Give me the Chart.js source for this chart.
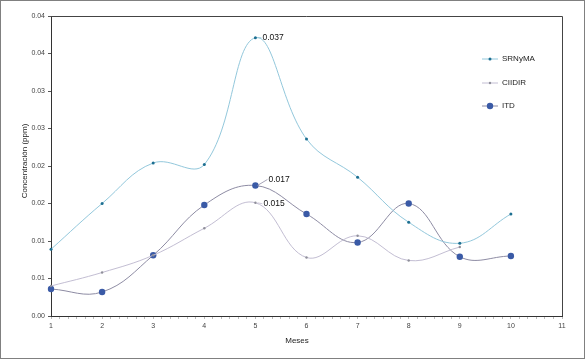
<!DOCTYPE html>
<html>
<head>
<meta charset="utf-8">
<script src="https://cdn.jsdelivr.net/npm/chart.js@4.4.1/dist/chart.umd.min.js"></script>
<style>
    html, body { margin: 0; padding: 0; background: #fff; }
    #wrap { width: 585px; height: 359px; position: relative; }
</style>
</head>
<body>
<div id="wrap"><canvas id="chart" width="585" height="359"></canvas></div>
<script>
// valores
const meses = [1, 2, 3, 4, 5, 6, 7, 8, 9, 10];
const srnyma = [0.0089, 0.0150, 0.0204, 0.0202, 0.0371, 0.0236, 0.0185, 0.0125, 0.0097, 0.0136];
const ciidir = [0.0040, 0.0058, 0.0081, 0.0117, 0.0151, 0.0078, 0.0107, 0.0074, 0.0092, null];
const itd = [0.0036, 0.0032, 0.0081, 0.0148, 0.0174, 0.0136, 0.0098, 0.0150, 0.0079, 0.0080];
const yTickLabels = ['0.00', '0.01', '0.01', '0.02', '0.02', '0.03', '0.03', '0.04', '0.04'];
const seriesNames = ['SRNyMA', 'CIIDIR', 'ITD'];

const FONT = 'Arial, "Liberation Sans", sans-serif';

function toPoints(values) {
    return meses.map((m, i) => ({ x: m, y: values[i] }));
}

// etiquetas de valor en el mes 5
const peakLabels = [
    { dataset: 0, index: 4, dx: 7, dy: 0 },
    { dataset: 2, index: 4, dx: 13, dy: -6 },
    { dataset: 1, index: 4, dx: 8, dy: 1 }
];

const framePlugin = {
    id: 'frame',
    beforeDraw(chart) {
        const ctx = chart.ctx;
        ctx.save();
        ctx.fillStyle = '#fff';
        ctx.fillRect(0, 0, chart.width, chart.height);
        ctx.restore();
    },
    afterDraw(chart) {
        const ctx = chart.ctx;
        const a = chart.chartArea;
        ctx.save();
        // marco del area de trazado
        ctx.strokeStyle = '#444';
        ctx.lineWidth = 1;
        ctx.beginPath();
        ctx.moveTo(a.left, a.top + 0.5);
        ctx.lineTo(a.right + 0.5, a.top + 0.5);
        ctx.lineTo(a.right + 0.5, a.bottom);
        ctx.stroke();
        // marco exterior
        ctx.strokeStyle = '#808080';
        ctx.strokeRect(0.5, 0.5, chart.width - 1, chart.height - 1);

        // titulos de ejes
        ctx.fillStyle = '#222';
        ctx.font = '8px ' + FONT;
        ctx.textAlign = 'center';
        ctx.textBaseline = 'middle';
        ctx.fillText('Meses', 297, 341);
        ctx.translate(25, 161);
        ctx.rotate(-Math.PI / 2);
        ctx.fillText('Concentración (ppm)', 0, 0);
        ctx.restore();

        // etiquetas de datos
        ctx.save();
        ctx.font = '8.5px ' + FONT;
        ctx.fillStyle = '#111';
        ctx.textAlign = 'left';
        ctx.textBaseline = 'middle';
        peakLabels.forEach(l => {
            const ds = chart.data.datasets[l.dataset];
            const pt = ds.data[l.index];
            const px = chart.scales.x.getPixelForValue(pt.x);
            const py = chart.scales.y.getPixelForValue(pt.y);
            const tx = px + l.dx;
            const ty = py + l.dy;
            ctx.strokeStyle = ds.borderColor;
            ctx.lineWidth = 0.8;
            ctx.beginPath();
            ctx.moveTo(px + 2, py);
            ctx.lineTo(tx - 1, ty);
            ctx.stroke();
            ctx.fillText(pt.y.toFixed(3), tx, ty);
        });
        ctx.restore();

        // leyenda
        ctx.save();
        ctx.font = '8px ' + FONT;
        ctx.textAlign = 'left';
        ctx.textBaseline = 'middle';
        const legendY = [59, 83, 106];
        chart.data.datasets.forEach((ds, i) => {
            const y = legendY[i];
            ctx.strokeStyle = ds.borderColor;
            ctx.lineWidth = 1;
            ctx.beginPath();
            ctx.moveTo(482, y);
            ctx.lineTo(498, y);
            ctx.stroke();
            ctx.fillStyle = ds.pointBackgroundColor;
            ctx.beginPath();
            ctx.arc(490, y, ds.pointRadius, 0, Math.PI * 2);
            ctx.fill();
            ctx.fillStyle = '#222';
            ctx.fillText(seriesNames[i], 502, y);
        });
        ctx.restore();
    }
};

new Chart(document.getElementById('chart'), {
    type: 'line',
    data: {
        datasets: [
            {
                label: seriesNames[0],
                data: toPoints(srnyma),
                borderColor: '#93c8dc',
                borderWidth: 1,
                pointBackgroundColor: '#1d6f91',
                pointBorderWidth: 0,
                pointRadius: 1.5,
                tension: 0.4,
                clip: false
            },
            {
                label: seriesNames[1],
                data: toPoints(ciidir),
                borderColor: '#c3bed3',
                borderWidth: 1,
                pointBackgroundColor: '#8f8f9a',
                pointBorderWidth: 0,
                pointRadius: 1.2,
                tension: 0.4,
                clip: false
            },
            {
                label: seriesNames[2],
                data: toPoints(itd),
                borderColor: '#8e8ca4',
                borderWidth: 1,
                pointBackgroundColor: '#3a5aa6',
                pointBorderWidth: 0,
                pointRadius: 3.2,
                tension: 0.4,
                clip: false
            }
        ]
    },
    options: {
        responsive: false,
        animation: false,
        events: [],
        layout: { padding: { top: 16, right: 23, left: 0, bottom: 0 } },
        plugins: {
            legend: { display: false },
            tooltip: { enabled: false }
        },
        scales: {
            x: {
                type: 'linear',
                min: 1,
                max: 11,
                afterFit: scale => { scale.height = 43; },
                border: { color: '#333', width: 1 },
                grid: { drawOnChartArea: false, tickLength: 3, color: '#bbb' },
                ticks: {
                    stepSize: 1 / 6,
                    autoSkip: false,
                    maxRotation: 0,
                    padding: 3,
                    color: '#444',
                    font: { family: FONT, size: 7 },
                    callback: v => Math.abs(v - Math.round(v)) < 1e-6 ? String(Math.round(v)) : ''
                }
            },
            y: {
                min: 0,
                max: 0.04,
                afterFit: scale => { scale.width = 51; },
                border: { color: '#333', width: 1 },
                grid: { drawOnChartArea: false, tickLength: 3, color: '#555' },
                ticks: {
                    stepSize: 0.005,
                    padding: 3,
                    color: '#444',
                    font: { family: FONT, size: 7 },
                    callback: (v, i) => yTickLabels[i]
                }
            }
        }
    },
    plugins: [framePlugin]
});
</script>
</body>
</html>
